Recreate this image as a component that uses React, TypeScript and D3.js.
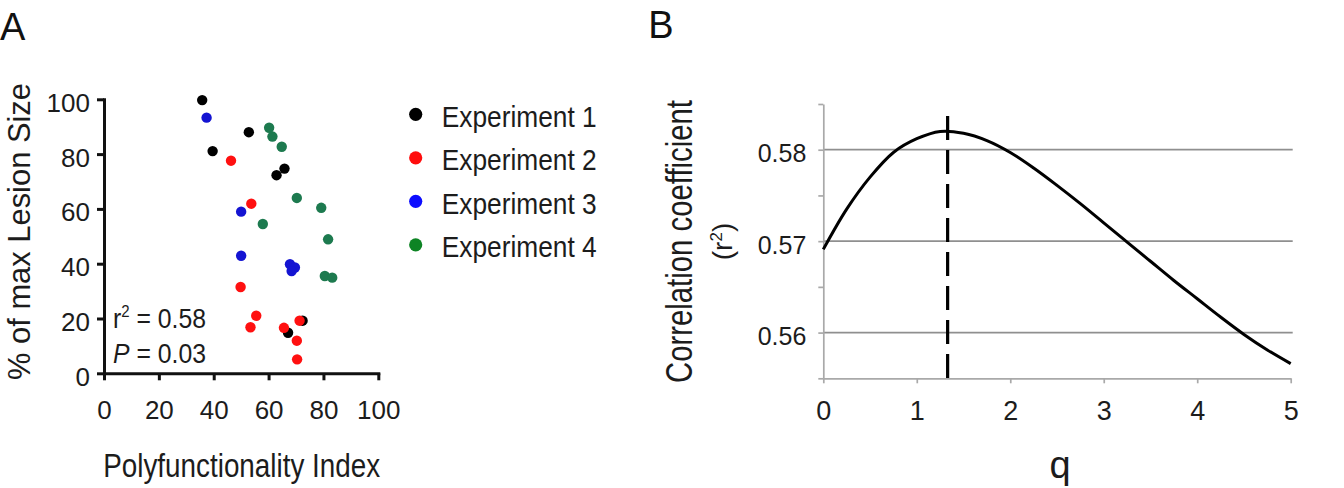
import React, { useEffect, useRef } from 'react';
import * as d3 from 'd3';

// Panel A: polyfunctionality index vs lesion size, one pair of arrays per experiment
const exp1X = [35.8, 39.6, 52.8, 62.9, 65.8, 67.1, 72.4];
const exp1Y = [99.7, 81.1, 88.0, 72.3, 74.7, 14.8, 19.2];
const exp2X = [46.3, 53.7, 49.8, 55.5, 53.4, 65.6, 71.3, 70.3, 70.4];
const exp2Y = [77.6, 61.9, 31.5, 21.0, 16.8, 16.6, 19.2, 11.9, 5.1];
const exp3X = [37.4, 50.0, 50.0, 67.8, 69.6, 68.4];
const exp3Y = [93.3, 59.0, 42.9, 39.8, 38.6, 37.3];
const exp4X = [60.2, 61.4, 64.8, 70.3, 79.2, 57.9, 81.7, 80.5, 83.2];
const exp4Y = [89.6, 86.4, 82.7, 64.0, 60.4, 54.5, 48.9, 35.5, 34.9];

const experimentNames = ['Experiment 1', 'Experiment 2', 'Experiment 3', 'Experiment 4'];
const pointColors = ['#000000', '#ff1010', '#1414d2', '#1d7a4f'];
const legendColors = ['#000000', '#ff0d0d', '#0d0dff', '#0d8424'];
const percentTicks = [0, 20, 40, 60, 80, 100];

// Panel B: r^2 as a function of q
const qValues = [0, 0.25, 0.5, 0.75, 1, 1.25, 1.5, 1.75, 2, 2.25, 2.5, 2.75, 3, 3.25, 3.5, 3.75, 4, 4.25, 4.5, 4.75, 5];
const r2Values = [
  0.5691, 0.5735, 0.5770, 0.5797, 0.5812, 0.5820, 0.5818, 0.5810, 0.5797, 0.5780, 0.5761,
  0.5741, 0.5720, 0.5699, 0.5678, 0.5657, 0.5637, 0.5617, 0.5598, 0.5581, 0.5566,
];
const bestQ = 1.33;
const qTicks = [0, 1, 2, 3, 4, 5];
const r2Ticks = [0.555, 0.56, 0.565, 0.57, 0.575, 0.58, 0.585];
const r2Labelled = [0.56, 0.57, 0.58];

const FONT = "'Liberation Sans', Arial, Helvetica, sans-serif";
const TEXT = '#1c1c1c';

const App = () => {
  const ref = useRef<SVGSVGElement>(null);

  useEffect(() => {
    const svg = d3.select(ref.current);
    svg.selectAll('*').remove();
    svg.attr('font-family', FONT);

    // ---------- panel A ----------
    const x = d3.scaleLinear().domain([0, 100]).range([104, 378.3]);
    const y = d3.scaleLinear().domain([0, 100]).range([373.3, 99.3]);

    const gx = svg
      .append('g')
      .attr('transform', `translate(0,${y(0)})`)
      .call(d3.axisBottom(x).tickValues(percentTicks).tickSize(7).tickSizeOuter(0).tickPadding(20));
    const gy = svg
      .append('g')
      .attr('transform', `translate(${x(0)},0)`)
      .call(d3.axisLeft(y).tickValues(percentTicks).tickSize(7).tickSizeOuter(0).tickPadding(7));

    [gx, gy].forEach((g) => {
      g.attr('font-family', FONT).attr('font-size', 26);
      g.select('.domain').attr('stroke', '#111').attr('stroke-width', 3).attr('stroke-linecap', 'square');
      g.selectAll('.tick line').attr('stroke', '#111').attr('stroke-width', 3);
      g.selectAll('.tick text').attr('fill', TEXT);
    });
    gy.selectAll('.tick text').attr('dy', '0.46em');

    const series = [
      [exp1X, exp1Y],
      [exp2X, exp2Y],
      [exp3X, exp3Y],
      [exp4X, exp4Y],
    ];
    series.forEach(([xs, ys], i) => {
      svg
        .append('g')
        .attr('fill', pointColors[i])
        .selectAll('circle')
        .data(xs.map((v, j) => [v, ys[j]]))
        .join('circle')
        .attr('cx', (d) => x(d[0]))
        .attr('cy', (d) => y(d[1]))
        .attr('r', 5.2);
    });

    // stats annotation
    const stat1 = svg
      .append('text')
      .attr('x', 113)
      .attr('y', 328.3)
      .attr('font-size', 28)
      .attr('fill', TEXT)
      .attr('textLength', 93)
      .attr('lengthAdjust', 'spacingAndGlyphs');
    stat1.append('tspan').text('r');
    stat1.append('tspan').attr('font-size', 17).attr('dy', -11).text('2');
    stat1.append('tspan').attr('dy', 11).text(' = 0.58');
    const stat2 = svg
      .append('text')
      .attr('x', 113)
      .attr('y', 363.3)
      .attr('font-size', 28)
      .attr('fill', TEXT)
      .attr('textLength', 93)
      .attr('lengthAdjust', 'spacingAndGlyphs');
    stat2.append('tspan').attr('font-style', 'italic').text('P');
    stat2.append('tspan').text(' = 0.03');

    // legend
    const legend = svg
      .append('g')
      .selectAll('g')
      .data(experimentNames)
      .join('g')
      .attr('transform', (_, i) => `translate(415.7,${114.3 + i * 43.5})`);
    legend.append('circle').attr('r', 6.6).attr('fill', (_, i) => legendColors[i]);
    legend
      .append('text')
      .attr('x', 26)
      .attr('y', 12.4)
      .attr('font-size', 29)
      .attr('fill', TEXT)
      .attr('textLength', 155)
      .attr('lengthAdjust', 'spacingAndGlyphs')
      .text((d) => d);

    svg
      .append('text')
      .attr('x', 241.7)
      .attr('y', 476.7)
      .attr('text-anchor', 'middle')
      .attr('font-size', 33)
      .attr('fill', TEXT)
      .attr('textLength', 277)
      .attr('lengthAdjust', 'spacingAndGlyphs')
      .text('Polyfunctionality Index');

    svg
      .append('text')
      .attr('transform', 'translate(30,231.5) rotate(-90)')
      .attr('text-anchor', 'middle')
      .attr('font-size', 31)
      .attr('fill', TEXT)
      .attr('textLength', 297)
      .attr('lengthAdjust', 'spacingAndGlyphs')
      .text('% of max Lesion Size');

    svg.append('text').attr('x', 0).attr('y', 40).attr('font-size', 38).attr('fill', '#111').text('A');

    // ---------- panel B ----------
    const xB = d3.scaleLinear().domain([0, 5]).range([823.3, 1290.7]);
    const yB = d3.scaleLinear().domain([0.555, 0.585]).range([378.3, 104]);

    svg
      .append('g')
      .attr('stroke', '#8f8f8f')
      .attr('stroke-width', 1.7)
      .selectAll('line')
      .data(r2Labelled)
      .join('line')
      .attr('x1', xB(0))
      .attr('x2', xB(5) + 2)
      .attr('y1', (d) => yB(d))
      .attr('y2', (d) => yB(d));

    const gxB = svg
      .append('g')
      .attr('transform', `translate(0,${yB(0.555)})`)
      .call(
        d3
          .axisBottom(xB)
          .tickValues(qTicks)
          .tickSize(5)
          .tickSizeOuter(0)
          .tickPadding(18)
          .tickFormat(d3.format('d'))
      );
    const gyB = svg
      .append('g')
      .attr('transform', `translate(${xB(0)},0)`)
      .call(
        d3
          .axisLeft(yB)
          .tickValues(r2Ticks)
          .tickSize(5)
          .tickSizeOuter(0)
          .tickPadding(12)
          .tickFormat((d) => (r2Labelled.some((v) => Math.abs(v - +d) < 1e-6) ? d3.format('.2f')(+d) : ''))
      );
    [gxB, gyB].forEach((g) => {
      g.attr('font-family', FONT).attr('font-size', 25);
      g.select('.domain').attr('stroke', '#a9a9a9').attr('stroke-width', 1.7);
      g.selectAll('.tick line').attr('stroke', '#a9a9a9').attr('stroke-width', 1.7);
      g.selectAll('.tick text').attr('fill', TEXT);
    });
    gxB.attr('font-size', 27);
    gyB.selectAll('.tick text').attr('dy', '0.48em');

    const curve = d3
      .line<number>()
      .x((d) => xB(d))
      .y((_, i) => yB(r2Values[i]))
      .curve(d3.curveCatmullRom.alpha(0.5));
    svg
      .append('path')
      .attr('d', curve(qValues))
      .attr('fill', 'none')
      .attr('stroke', '#000')
      .attr('stroke-width', 3);

    svg
      .append('line')
      .attr('x1', xB(bestQ))
      .attr('x2', xB(bestQ))
      .attr('y1', yB(0.5837))
      .attr('y2', yB(0.555) + 6)
      .attr('stroke', '#000')
      .attr('stroke-width', 3.2)
      .attr('stroke-dasharray', '24 10');

    svg
      .append('text')
      .attr('transform', 'translate(692,241.5) rotate(-90)')
      .attr('text-anchor', 'middle')
      .attr('font-size', 37)
      .attr('fill', TEXT)
      .attr('textLength', 283)
      .attr('lengthAdjust', 'spacingAndGlyphs')
      .text('Correlation coefficient');

    const rLabel = svg
      .append('text')
      .attr('transform', 'translate(732,241.5) rotate(-90)')
      .attr('text-anchor', 'middle')
      .attr('font-size', 28)
      .attr('fill', TEXT);
    rLabel.append('tspan').text('(r');
    rLabel.append('tspan').attr('font-size', 17).attr('dy', -10).text('2');
    rLabel.append('tspan').attr('dy', 10).text(')');

    svg
      .append('text')
      .attr('x', 1060)
      .attr('y', 478)
      .attr('text-anchor', 'middle')
      .attr('font-size', 38)
      .attr('fill', TEXT)
      .text('q');

    svg.append('text').attr('x', 661).attr('y', 38).attr('text-anchor', 'middle').attr('font-size', 38).attr('fill', '#111').text('B');
  }, []);

  return (
    <svg
      ref={ref}
      width={1344}
      height={488}
      style={{ position: 'absolute', left: 0, top: 0, background: '#fff' }}
    />
  );
};

export default App;
